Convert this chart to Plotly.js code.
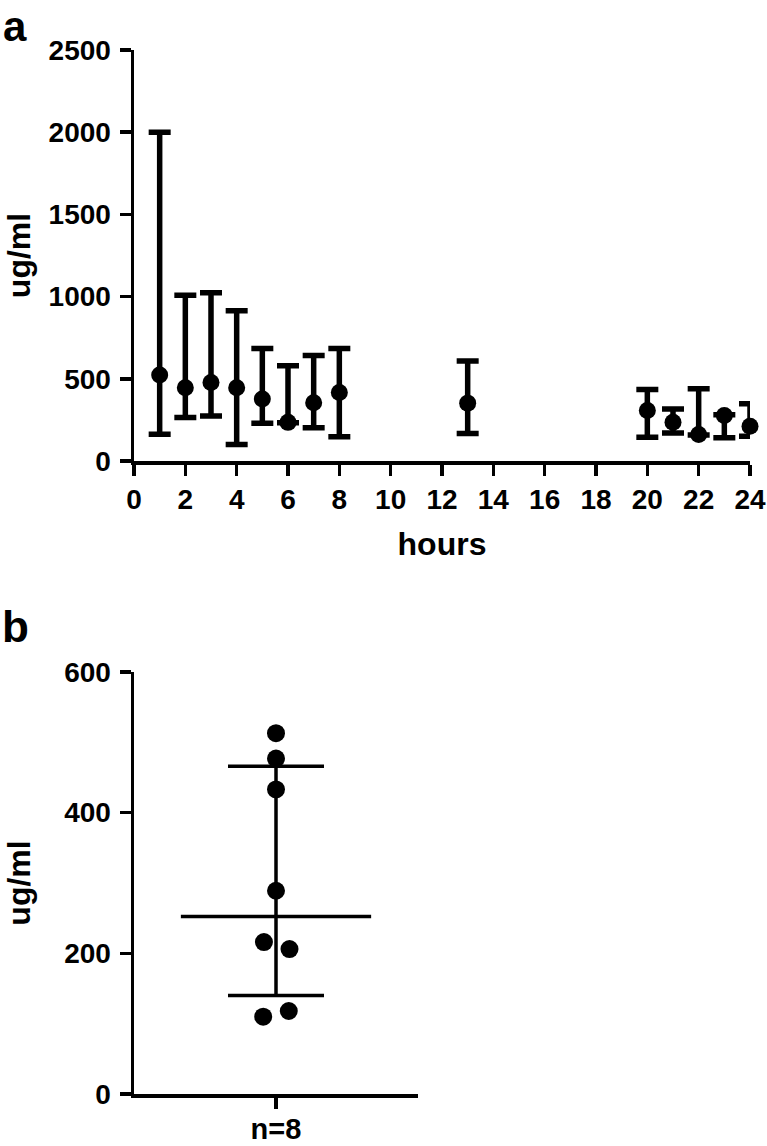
<!DOCTYPE html>
<html>
<head>
<meta charset="utf-8">
<script src="https://cdn.plot.ly/plotly-3.0.1.min.js"></script>
<style>html,body{margin:0;padding:0;background:#fff;}#chart{width:767px;height:1146px;}</style>
</head>
<body>
<div id="chart"></div>
<script>
// Panel a: concentration over time (mean with range)
const hours = [1, 2, 3, 4, 5, 6, 7, 8, 13, 20, 21, 22, 23, 24];
const meanConc = [523, 446, 478, 446, 377, 235, 355, 416, 352, 307, 236, 161, 277, 212];
const lowerConc = [162, 264, 274, 101, 229, 233, 203, 148, 167, 145, 171, 158, 141, 151];
const upperConc = [2000, 1008, 1024, 914, 685, 580, 641, 685, 608, 435, 317, 439, 282, 348];
const xTicksA = [0, 2, 4, 6, 8, 10, 12, 14, 16, 18, 20, 22, 24];
const yTicksA = [0, 500, 1000, 1500, 2000, 2500];

// Panel b: individual values (n=8) with median and interquartile range
const indivValues = [513, 477, 433, 289, 216, 206, 110, 118];
const indivJitter = [0, 0, 0, 0, -0.085, 0.095, -0.09, 0.09];
const groupLabel = ['n=8'];
const yTicksB = [0, 200, 400, 600];

function quantile(arr, p) {
  const s = arr.slice().sort((a, b) => a - b);
  const n = s.length;
  const pos = p * (n + 1);
  const lo = Math.floor(pos);
  const frac = pos - lo;
  if (lo < 1) return s[0];
  if (lo >= n) return s[n - 1];
  return s[lo - 1] + frac * (s[lo] - s[lo - 1]);
}
const med = quantile(indivValues, 0.5);
const q1 = quantile(indivValues, 0.25);
const q3 = quantile(indivValues, 0.75);

const FONT = 'Arial, "Liberation Sans", Helvetica, sans-serif';
const tickFont = {family: FONT, size: 28, color: '#000', weight: 'bold'};
const titleFont = {family: FONT, size: 32, color: '#000', weight: 'bold'};

const traces = [
  {
    type: 'scatter', mode: 'markers', x: hours, y: meanConc,
    xaxis: 'x', yaxis: 'y', cliponaxis: false,
    marker: {color: '#000', size: 17},
    error_y: {
      type: 'data', symmetric: false,
      array: upperConc.map((u, i) => u - meanConc[i]),
      arrayminus: meanConc.map((m, i) => m - lowerConc[i]),
      color: '#000', thickness: 5.5, width: 11
    },
    hoverinfo: 'x+y', showlegend: false
  },
  {
    type: 'scatter', mode: 'markers', x: indivJitter, y: indivValues,
    xaxis: 'x2', yaxis: 'y2', cliponaxis: false,
    marker: {color: '#000', size: 18},
    showlegend: false
  },
  {
    type: 'scatter', mode: 'lines', x: [-0.67, 0.67], y: [med, med],
    xaxis: 'x2', yaxis: 'y2', line: {color: '#000', width: 3.5},
    showlegend: false, hoverinfo: 'y'
  },
  {
    type: 'scatter', mode: 'markers', x: [0], y: [med],
    xaxis: 'x2', yaxis: 'y2', marker: {size: 1, opacity: 0},
    error_y: {type: 'data', symmetric: false, array: [q3 - med], arrayminus: [med - q1],
      color: '#000', thickness: 3.5, width: 48},
    showlegend: false, hoverinfo: 'none'
  }
];

const axisCommon = {
  showline: true, linecolor: '#000', linewidth: 3.5,
  ticks: 'outside', ticklen: 11, tickwidth: 3.5, tickcolor: '#000',
  showgrid: false, zeroline: false, tickfont: tickFont, fixedrange: true
};

const layout = {
  width: 767, height: 1146,
  margin: {l: 0, r: 0, t: 0, b: 0},
  paper_bgcolor: '#fff', plot_bgcolor: '#fff',
  showlegend: false,
  xaxis: Object.assign({}, axisCommon, {
    domain: [134/767, 750/767], anchor: 'y', range: [0, 24],
    tickvals: xTicksA, ticktext: xTicksA.map(String),
    title: {text: 'hours', font: titleFont, standoff: 19}
  }),
  yaxis: Object.assign({}, axisCommon, {
    domain: [(1146-461)/1146, (1146-50)/1146], anchor: 'x', range: [0, 2500],
    tickvals: yTicksA, ticktext: yTicksA.map(String), ticklabelstandoff: 3,
    title: {text: 'ug/ml', font: titleFont, standoff: 9}
  }),
  xaxis2: Object.assign({}, axisCommon, {
    domain: [134/767, 418/767], anchor: 'y2', range: [-1, 1],
    tickvals: [0], ticktext: groupLabel, ticklabelstandoff: -4,
    tickfont: {family: FONT, size: 29, color: '#000', weight: 'bold'}
  }),
  yaxis2: Object.assign({}, axisCommon, {
    domain: [(1146-1094)/1146, (1146-672)/1146], anchor: 'x2', range: [0, 600],
    tickvals: yTicksB, ticktext: yTicksB.map(String), ticklabelstandoff: 3,
    title: {text: 'ug/ml', font: titleFont, standoff: 25}
  }),
  annotations: [
    {text: 'a', xref: 'paper', yref: 'paper', x: 0, y: 1, xanchor: 'left', yanchor: 'top',
     xshift: 1, yshift: -1, showarrow: false, font: {family: FONT, size: 42, color: '#000', weight: 'bold'}},
    {text: 'b', xref: 'paper', yref: 'paper', x: 0, y: (1146-600)/1146, xanchor: 'left', yanchor: 'top',
     xshift: 0, showarrow: false, font: {family: FONT, size: 44, color: '#000', weight: 'bold'}}
  ]
};

Plotly.newPlot('chart', traces, layout, {displayModeBar: false, staticPlot: true});
</script>
</body>
</html>
